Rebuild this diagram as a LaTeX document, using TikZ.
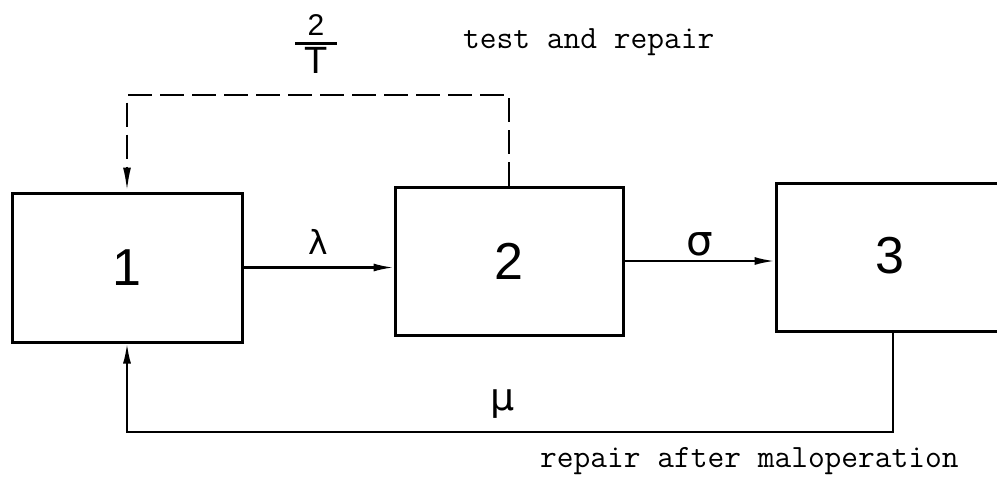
\documentclass[tikz,border=0pt]{standalone}
\usepackage{fontspec}
\usetikzlibrary{arrows.meta}
\newfontfamily\digitfont{Liberation Sans}
\newfontfamily\greekfont{DejaVu Sans}
\begin{document}
\begin{tikzpicture}[x=1pt,y=-1pt,
  box/.style={draw,line width=3pt,minimum width=230pt,minimum height=149pt,inner sep=0pt,
    font=\digitfont\fontsize{52}{52}\selectfont},
  conn/.style={line width=2.1pt,-{Latex[length=20pt,width=8pt]}},
  dconn/.style={line width=2.4pt,dash pattern=on 24pt off 8pt,-{Latex[length=24pt,width=8pt]}},
  glabel/.style={font=\greekfont\fontsize{36}{36}\selectfont,inner sep=0pt},
  mtext/.style={font=\ttfamily\fontsize{32.5}{32.5}\selectfont,inner sep=0pt,anchor=base west}]
\clip (0,0) rectangle (997,477);
\fill[white] (0,0) rectangle (997,477);
% boxes
\node[box] (box1) at (127,267.5) {1};
\node[box,minimum width=228pt,minimum height=148pt] (box2) at (509,261) {2};
\node[box,minimum width=234pt,minimum height=148pt,text width=0pt] (box3) at (893,257) {};
\node[font=\digitfont\fontsize{52}{52}\selectfont,inner sep=0pt] (n3) at (890,256) {3};
% connectors
\draw[conn] (box1.east) -- (box1.east -| box2.west);
\draw[conn] (box2.east) -- (box2.east -| box3.west);
\coordinate (dtop) at (300,95);
\draw[dconn] (box2.north) |- (dtop) -| (box1.north);
\coordinate (mbot) at (500,432);
\draw[conn] (box3.south) |- (mbot) -| (box1.south);
% labels
\node[glabel,font=\greekfont\fontsize{33}{33}\selectfont] (lam) at (318,242) {λ};
\node[glabel,font=\greekfont\fontsize{42}{42}\selectfont] (sig) at (700,244) {σ};
\node[glabel,font=\greekfont\fontsize{38}{38}\selectfont] (mu) at (503,404) {μ};
\node[inner sep=0pt] (frac) at (316,44) {\vbox{\hbox to 42pt{\hss\digitfont\fontsize{30}{30}\selectfont 2\hss}\kern7pt\hrule height 2.8pt\kern3pt\hbox to 42pt{\hss\digitfont\fontsize{38}{38}\selectfont T\hss}}};
\node[mtext] (test) at (463,48) {test and repair};
\node[mtext] (rep) at (540,467) {repair after maloperation};
\end{tikzpicture}
\end{document}
